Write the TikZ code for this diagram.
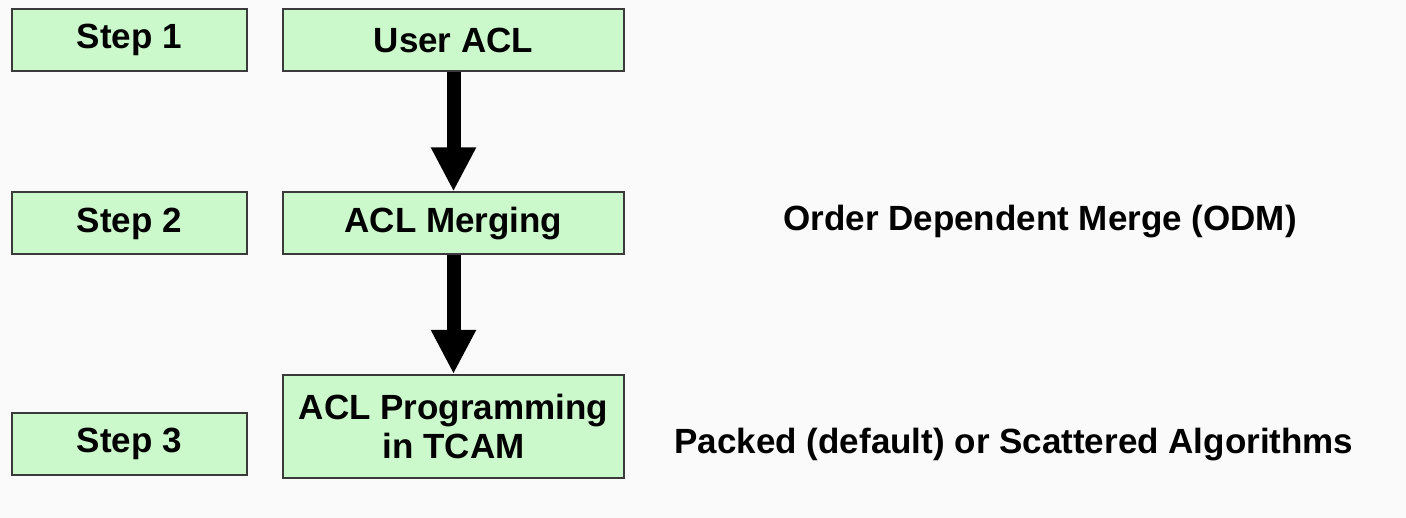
\documentclass[tikz,border=0pt]{standalone}
\usepackage{fontspec}
\setmainfont{Liberation Sans}
\usetikzlibrary{arrows.meta}
\definecolor{boxgreen}{HTML}{CCF9CC}
\definecolor{boxline}{HTML}{3A3A3A}
\definecolor{pagebg}{HTML}{FAFAFA}
\begin{document}
\begin{tikzpicture}[x=1pt,y=-1pt,
    font=\fontsize{35}{39}\selectfont\bfseries,
    stepbox/.style={draw=boxline, line width=2pt, fill=boxgreen, inner sep=0pt,
                    minimum width=235pt, minimum height=62pt},
    actbox/.style={stepbox, minimum width=341pt},
    flow/.style={line width=14pt, -{Triangle[length=44pt,width=42pt]}}]
  \fill[pagebg] (0,0) rectangle (1406,518);
  \useasboundingbox (0,0) rectangle (1406,518);

  % left column: steps
  \node[stepbox] (step1) at (129.5,40) {Step 1};
  \node[stepbox] (step2) at (129.5,223.5) {Step 2};
  \node[stepbox] (step3) at (129.5,444) {Step 3};

  % middle column: what happens
  \node[actbox] (user) at (453.5,40) {User ACL};
  \node[actbox] (merge) at (453.5,223.5) {ACL Merging};
  \node[actbox, minimum height=103pt, align=center] (prog) at (453.5,426.5)
    {ACL Programming\\in TCAM};

  % right column: notes
  \node[inner sep=0pt] (odm) at (1040,222) {Order Dependent Merge (ODM)};
  \node[inner sep=0pt] (algo) at (1014,445) {Packed (default) or Scattered Algorithms};

  \draw[flow] (user) -- (merge);
  \draw[flow] (merge) -- (prog);
\end{tikzpicture}
\end{document}
